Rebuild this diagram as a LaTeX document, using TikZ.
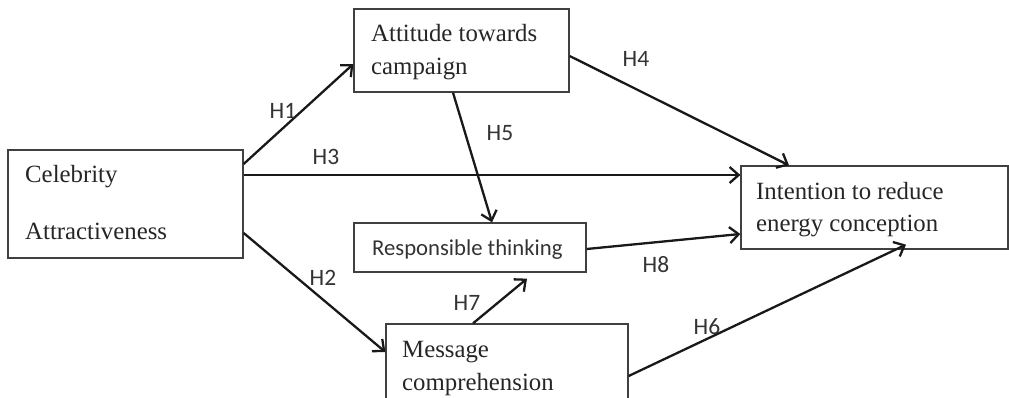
\documentclass[tikz,border=0pt]{standalone}
\usepackage{fontspec}
\setmainfont{Liberation Serif}
\newfontfamily\lblfont{Carlito}
\usetikzlibrary{arrows.meta,calc}
\begin{document}
\begin{tikzpicture}[x=1pt,y=-1pt,
  box/.style={draw=black!75,line width=1.3pt,rectangle,inner sep=0pt,minimum width=#1},
  txt/.style={anchor=base west,inner sep=0pt,font=\fontsize{24.8}{28}\selectfont,text=black!85},
  rtxt/.style={anchor=base west,inner sep=0pt,font=\lblfont\fontsize{22.7}{26}\selectfont,text=black!80},
  lbl/.style={inner sep=0pt,font=\lblfont\fontsize{23.5}{26}\selectfont,text=black!80},
  arr/.style={line width=2.3pt,black!90,-{Straight Barb[length=9pt,width=16pt,line width=2.3pt]}}
]
\useasboundingbox (0,0) rectangle (1009,398);
\clip (0,0) rectangle (1009,398);
% boxes
\node[box=235pt,minimum height=108pt] (cel) at (125.5,204) {};
\node[box=215pt,minimum height=83pt] (att) at (461.5,50.5) {};
\node[box=232pt,minimum height=49pt] (res) at (470,247.5) {};
\node[box=242pt,minimum height=96pt] (msg) at (507,372) {};
\node[box=267pt,minimum height=83pt] (int) at (874.5,207.5) {};
% texts
\node[txt] (cel1) at (25,183) {Celebrity};
\node[txt] (cel2) at (25,240) {Attractiveness};
\node[txt] (att1) at (371,42) {Attitude towards};
\node[txt] (att2) at (371,75) {campaign};
\node[rtxt] (res1) at (372,255) {Responsible thinking};
\node[txt] (msg1) at (402,357) {Message};
\node[txt] (msg2) at (402,390) {comprehension};
\node[txt] (int1) at (756,200) {Intention to reduce};
\node[txt] (int2) at (756,232) {energy conception};
% arrows
\draw[arr] (cel.east |- 0,164) -- (att.west |- 0,64);
\draw[arr] (cel.east |- 0,175) -- (int.west |- 0,175);
\draw[arr] (cel.east |- 0,233) -- (msg.west |- 0,352);
\draw[arr] (att.east |- 0,56) -- (int.north -| 789,0);
\draw[arr] (att.south -| 453,0) -- (res.north -| 492,0);
\draw[arr] (msg.north -| 473,0) -- ($(res.south -| 527,0)+(0,6)$);
\draw[arr] (res.east |- 0,249) -- (int.west |- 0,234);
\draw[arr] (msg.east |- 0,376) -- ($(int.south -| 906,0)+(0,-5)$);
% labels
\node[lbl] (h1) at (283,111) {H1};
\node[lbl] (h3) at (326,157) {H3};
\node[lbl] (h2) at (323,278) {H2};
\node[lbl] (h4) at (636,59) {H4};
\node[lbl] (h5) at (500,133) {H5};
\node[lbl] (h8) at (656,265) {H8};
\node[lbl] (h6) at (707,327) {H6};
\node[lbl] (h7) at (467,303) {H7};
\end{tikzpicture}
\end{document}
